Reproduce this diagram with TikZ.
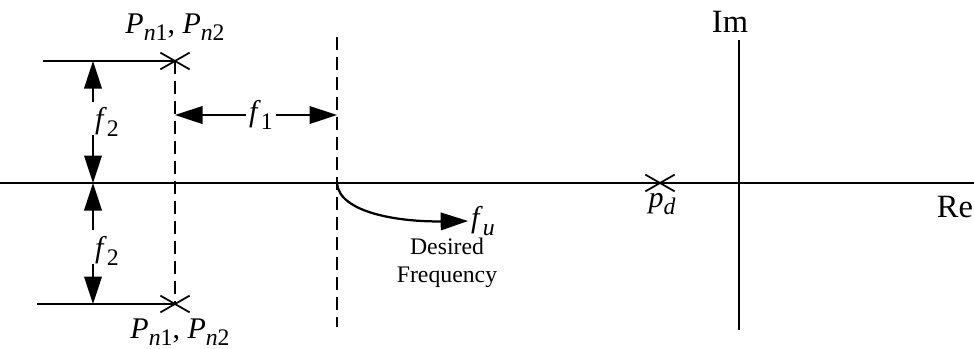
\documentclass[tikz,border=0pt]{standalone}
\usepackage{fontspec}
\setmainfont{Liberation Serif}
\usetikzlibrary{arrows.meta,shapes.misc,calc,positioning}

\tikzset{
  axis/.style={line width=0.9pt},
  guide/.style={line width=0.9pt,dash pattern=on 5pt off 3pt},
  dimarrow/.style={line width=0.9pt,-{Triangle[length=11pt,width=7pt]}},
  pole/.style={draw,cross out,line width=0.7pt,minimum width=11pt,minimum height=6pt,inner sep=0pt},
  lbl/.style={font=\fontsize{12}{14}\selectfont,inner sep=1pt},
  axlbl/.style={font=\fontsize{13}{15}\selectfont,inner sep=1pt},
  txt/.style={font=\fontsize{9.5}{11}\selectfont,align=center,inner sep=1pt},
}
\newcommand{\sym}[2]{\textit{#1\/}\raisebox{-0.55ex}{\fontsize{9.5}{10}\selectfont#2}}

\begin{document}
\begin{tikzpicture}[x=0.4pt,y=-0.4pt]
  \useasboundingbox (0,0) rectangle (974,348);
  % real and imaginary axes
  \coordinate (reL) at (0,183);
  \coordinate (reR) at (974,183);
  \coordinate (imT) at (739,40);
  \coordinate (imB) at (739,330);
  \draw[axis] (reL) -- (reR);
  \draw[axis] (imT) -- (imB);
  \node[axlbl] (im) at (730,22) {Im};
  \node[axlbl] (re) at (955,207) {Re};

  % poles
  \node[pole] (pd) at (660,183) {};
  \node[lbl] (pdl) at (662,204) {\sym{p}{\textit{d}}};
  \node[pole] (pt) at (175,61) {};
  \node[pole] (pb) at (175,304) {};
  \node[lbl] (ptl) at (175,27) {\sym{P}{\textit{n}1}, \sym{P}{\textit{n}2}};
  \node[lbl] (pbl) at (180,332) {\sym{P}{\textit{n}1}, \sym{P}{\textit{n}2}};
  \coordinate (topL) at (43,61);
  \coordinate (botL) at (37,304);
  \draw[axis] (topL) -- (pt.center);
  \draw[axis] (botL) -- (pb.center);

  % dashed guides
  \draw[guide] (pt.center) -- (pb.center);
  \coordinate (gT) at (337,37);
  \coordinate (gB) at (337,327);
  \draw[guide] (gT) -- (gB);

  % f1
  \node[lbl] (f1) at (261,115) {\sym{f}{1}};
  \draw[dimarrow] (f1.west) -- (f1.west -| pt);
  \draw[dimarrow] (f1.east) -- (f1.east -| gT);

  % f2
  \node[lbl] (f2t) at (107,122) {\sym{f}{2}};
  \node[lbl] (f2b) at (107,251) {\sym{f}{2}};
  \coordinate (a1) at (93,102);
  \coordinate (a2) at (93,135);
  \coordinate (a3) at (93,230);
  \coordinate (a4) at (93,264);
  \draw[dimarrow] (a1) -- (a1 |- pt);
  \draw[dimarrow] (a2) -- (a2 |- reL);
  \draw[dimarrow] (a3) -- (a3 |- reL);
  \draw[dimarrow] (a4) -- (a4 |- pb);

  % desired frequency
  \coordinate (fu0) at (337,183);
  \node[lbl] (fu) at (483,221) {\sym{f}{\textit{u}}};
  \draw[dimarrow] (fu0) .. controls (339,213) and (400,222) .. (fu.west);
  \node[txt] (df) at (447,263) {Desired\\Frequency};
\end{tikzpicture}
\end{document}
